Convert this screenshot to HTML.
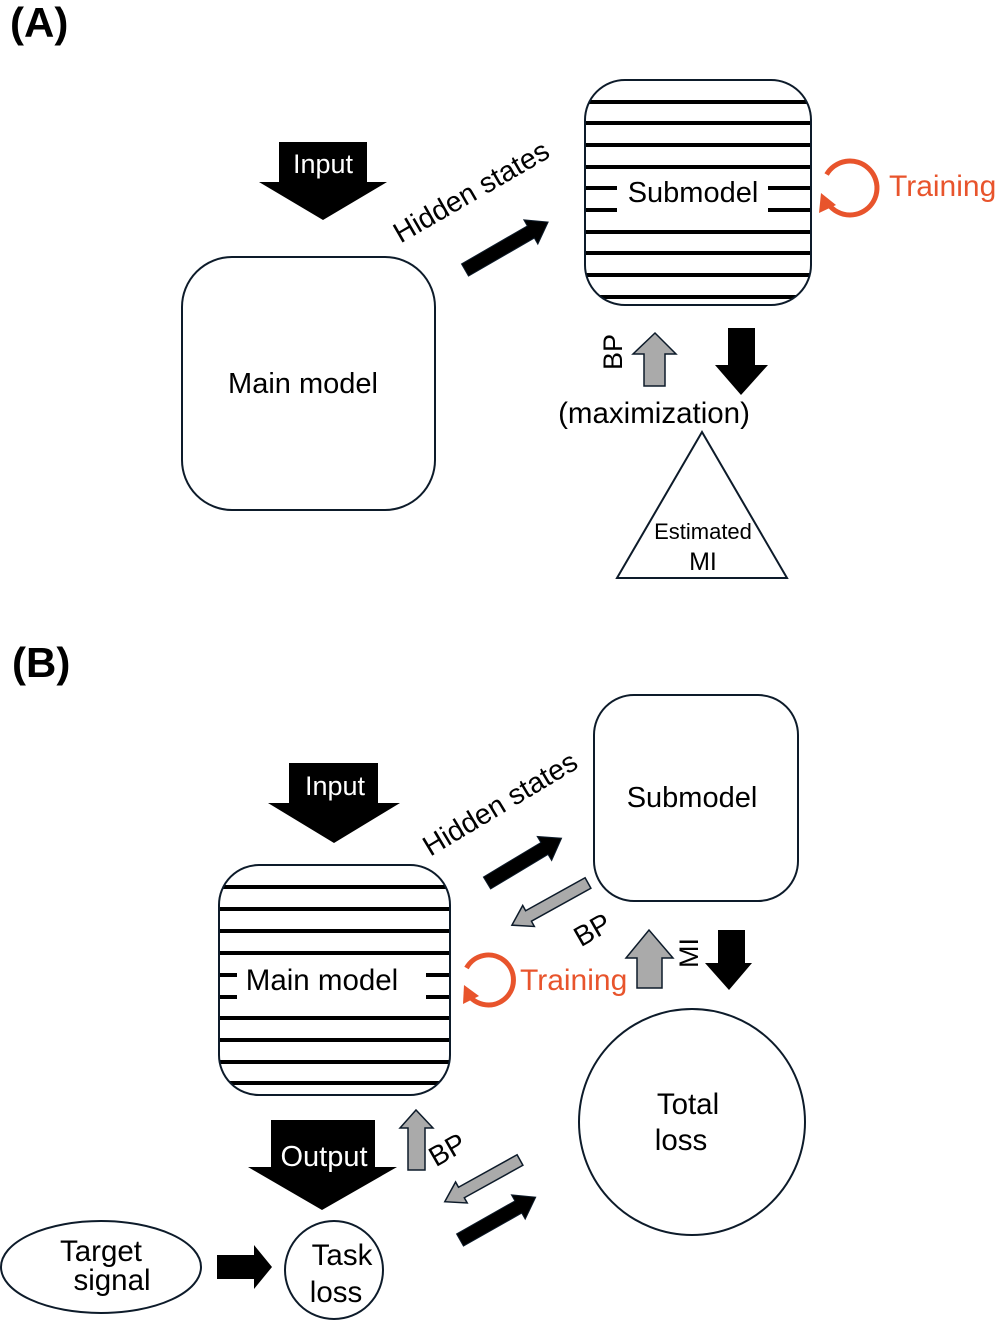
<!DOCTYPE html>
<html><head><meta charset="utf-8"><style>
html,body{margin:0;padding:0;background:#fff}
svg{display:block}
text{font-family:"Liberation Sans",Arial,sans-serif}
</style></head><body>
<svg width="997" height="1320" viewBox="0 0 997 1320" xmlns="http://www.w3.org/2000/svg">
<rect width="997" height="1320" fill="#fff"/>
<!-- Panel A -->
<text x="10" y="37" font-size="42" font-weight="bold">(A)</text>
<polygon points="279,142 367,142 367,182 387,182 323,220 259,182 279,182" fill="#000"/>
<text x="323" y="173" font-size="27" fill="#fff" text-anchor="middle">Input</text>
<rect x="182" y="257" width="253" height="253" rx="50" fill="#fff" stroke="#0d1b2a" stroke-width="2"/>
<text x="303" y="393" font-size="29" text-anchor="middle">Main model</text>
<text x="476" y="200" font-size="28.5" text-anchor="middle" transform="rotate(-30 476 200)">Hidden states</text>
<polygon points="0,-7 76,-7 76,-14 96,0 76,14 76,7 0,7" fill="#000" stroke="#0d1b2a" transform="translate(465,270) rotate(-30)"/>
<defs><clipPath id="cA"><rect x="585" y="80" width="226" height="225" rx="40"/></clipPath>
<clipPath id="cB"><rect x="219" y="865" width="231" height="230" rx="40"/></clipPath></defs>
<g clip-path="url(#cA)" stroke="#000" stroke-width="4">
<line x1="585" y1="102" x2="811" y2="102"/><line x1="585" y1="123" x2="811" y2="123"/><line x1="585" y1="145" x2="811" y2="145"/>
<line x1="585" y1="167" x2="811" y2="167"/>
<line x1="585" y1="188" x2="617" y2="188"/><line x1="768" y1="188" x2="811" y2="188"/>
<line x1="585" y1="210" x2="617" y2="210"/><line x1="768" y1="210" x2="811" y2="210"/>
<line x1="585" y1="232" x2="811" y2="232"/><line x1="585" y1="253" x2="811" y2="253"/><line x1="585" y1="275" x2="811" y2="275"/><line x1="585" y1="297" x2="811" y2="297"/>
</g>
<rect x="617" y="169" width="151" height="44" fill="#fff"/>
<rect x="585" y="80" width="226" height="225" rx="40" fill="none" stroke="#0d1b2a" stroke-width="2"/>
<text x="693" y="202" font-size="29" text-anchor="middle">Submodel</text>
<path d="M826.6,174.5 A27,27 0 1 1 825.5,199.4" fill="none" stroke="#e8542c" stroke-width="5"/>
<polygon points="819,213 821,193 836,205" fill="#e8542c"/>
<text x="889" y="196" font-size="30" fill="#e8542c">Training</text>
<polygon points="644,386 665,386 665,354 676,354 655,333 633,354 644,354" fill="#aaa" stroke="#0d1b2a" stroke-width="1.5"/>
<polygon points="728,328 755,328 755,365 768,365 741,395 715,365 728,365" fill="#000"/>
<text x="622" y="352" font-size="27" text-anchor="middle" transform="rotate(-90 622 352)">BP</text>
<text x="654" y="423" font-size="29.5" text-anchor="middle">(maximization)</text>
<polygon points="702,432 617,578 787,578" fill="#fff" stroke="#0d1b2a" stroke-width="2"/>
<text x="703" y="539" font-size="22" text-anchor="middle">Estimated</text>
<text x="703" y="570" font-size="25" text-anchor="middle">MI</text>
<!-- Panel B -->
<text x="12" y="677" font-size="42" font-weight="bold">(B)</text>
<polygon points="289,763 378,763 378,803 400,803 334,843 268,803 289,803" fill="#000"/>
<text x="335" y="795" font-size="27" fill="#fff" text-anchor="middle">Input</text>
<rect x="594" y="695" width="204" height="206" rx="40" fill="#fff" stroke="#0d1b2a" stroke-width="2"/>
<text x="692" y="807" font-size="29" text-anchor="middle">Submodel</text>
<text x="505" y="812" font-size="28.5" text-anchor="middle" transform="rotate(-31 505 812)">Hidden states</text>
<polygon points="0,-7 67,-7 67,-14 87,0 67,14 67,7 0,7" fill="#000" stroke="#0d1b2a" transform="translate(487,883) rotate(-31)"/>
<polygon points="0,-6 68,-6 68,-12 87,0 68,12 68,6 0,6" fill="#aaa" stroke="#0d1b2a" stroke-width="1.5" transform="translate(588,883) rotate(151)"/>
<text x="597" y="938" font-size="28" text-anchor="middle" transform="rotate(-30 597 938)">BP</text>
<g clip-path="url(#cB)" stroke="#000" stroke-width="4">
<line x1="219" y1="887" x2="450" y2="887"/><line x1="219" y1="909" x2="450" y2="909"/><line x1="219" y1="931" x2="450" y2="931"/><line x1="219" y1="953" x2="450" y2="953"/>
<line x1="219" y1="975" x2="237" y2="975"/><line x1="426" y1="975" x2="450" y2="975"/>
<line x1="219" y1="997" x2="237" y2="997"/><line x1="426" y1="997" x2="450" y2="997"/>
<line x1="219" y1="1018" x2="450" y2="1018"/><line x1="219" y1="1040" x2="450" y2="1040"/><line x1="219" y1="1062" x2="450" y2="1062"/><line x1="219" y1="1083" x2="450" y2="1083"/>
</g>
<rect x="219" y="865" width="231" height="230" rx="40" fill="none" stroke="#0d1b2a" stroke-width="2"/>
<text x="322" y="990" font-size="29.5" text-anchor="middle">Main model</text>
<path d="M466.5,968 A25,25 0 1 1 466,991" fill="none" stroke="#e8542c" stroke-width="5"/>
<polygon points="463,1004 464,985 479,996" fill="#e8542c"/>
<text x="520" y="990" font-size="30" fill="#e8542c">Training</text>
<polygon points="637,988 662,988 662,958 673,958 649,930 626,958 637,958" fill="#aaa" stroke="#0d1b2a" stroke-width="1.5"/>
<text x="698" y="953" font-size="27" text-anchor="middle" transform="rotate(-90 698 953)">MI</text>
<polygon points="718,930 745,930 745,963 752,963 729,990 705,963 718,963" fill="#000"/>
<circle cx="692" cy="1122" r="113" fill="#fff" stroke="#0d1b2a" stroke-width="2"/>
<text x="688" y="1114" font-size="29.5" text-anchor="middle">Total</text>
<text x="681" y="1150" font-size="29.5" text-anchor="middle">loss</text>
<polygon points="271,1120 375,1120 375,1167 397,1167 322,1210 248,1167 271,1167" fill="#000"/>
<text x="324" y="1166" font-size="29" fill="#fff" text-anchor="middle">Output</text>
<polygon points="408,1170 425,1170 425,1128 433,1128 416,1110 400,1128 408,1128" fill="#aaa" stroke="#0d1b2a" stroke-width="1.5"/>
<text x="452" y="1158" font-size="28" text-anchor="middle" transform="rotate(-30 452 1158)">BP</text>
<polygon points="0,-6 67,-6 67,-12 86,0 67,12 67,6 0,6" fill="#aaa" stroke="#0d1b2a" stroke-width="1.5" transform="translate(520,1160) rotate(151)"/>
<polygon points="0,-7 67,-7 67,-14 87,0 67,14 67,7 0,7" fill="#000" stroke="#0d1b2a" transform="translate(460,1240) rotate(-29.5)"/>
<ellipse cx="101" cy="1267" rx="100" ry="46" fill="#fff" stroke="#0d1b2a" stroke-width="2"/>
<text x="101" y="1261" font-size="29.5" text-anchor="middle">Target</text>
<text x="112" y="1290" font-size="29.5" text-anchor="middle">signal</text>
<polygon points="217,1255 254,1255 254,1245 272,1267 254,1289 254,1279 217,1279" fill="#000"/>
<circle cx="334" cy="1270" r="49" fill="#fff" stroke="#0d1b2a" stroke-width="2"/>
<text x="342" y="1265" font-size="29.5" text-anchor="middle">Task</text>
<text x="336" y="1302" font-size="29.5" text-anchor="middle">loss</text>
</svg>
</body></html>
